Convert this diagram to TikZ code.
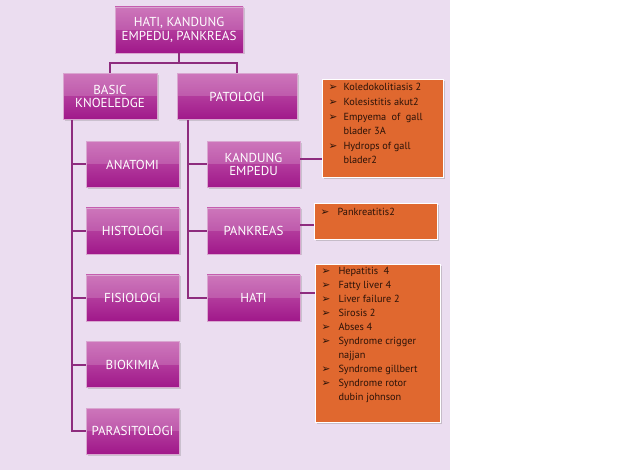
\documentclass[tikz,border=0pt]{standalone}
\usepackage{fontspec}
\setmainfont{PT Sans}
\newfontfamily\symfont{DejaVu Sans}
\usetikzlibrary{positioning, calc, shadows}
\definecolor{bgLilac}{HTML}{EBDDF0}
\definecolor{boxTop}{HTML}{C45CAE}
\definecolor{boxBot}{HTML}{A0188A}
\definecolor{boxEdge}{HTML}{D9A6D0}
\definecolor{lineFg}{HTML}{8E2C7E}
\definecolor{noteBg}{HTML}{E0682F}
\definecolor{noteFg}{HTML}{2A1208}
\newcommand{\arrbul}{{\symfont\fontsize{10.5}{10.5}\selectfont ➢}}

\begin{document}
\begin{tikzpicture}[x=1pt, y=-1pt,
    topic/.style={rectangle, draw=boxEdge, line width=0.6pt, minimum height=46pt,
        top color=boxTop, bottom color=boxBot, text=white, align=center,
        font=\fontsize{13}{13.5}\selectfont,
        drop shadow={opacity=0.3, shadow xshift=1.5pt, shadow yshift=-1.5pt},
        path picture={\fill[white, opacity=0.16] (path picture bounding box.north west) rectangle (path picture bounding box.east);}},
    note/.style={rectangle, fill=noteBg, draw=white, line width=1pt, inner sep=0pt,
        drop shadow={opacity=0.35, shadow xshift=1.5pt, shadow yshift=-1.5pt}},
    notetxt/.style={inner sep=0pt, anchor=north west, text=noteFg, font=\fontsize{10.3}{14.6}\selectfont},
    link/.style={lineFg, line width=2pt},
]
% background
\fill[white] (0,0) rectangle (640,470);
\fill[bgLilac] (0,0) rectangle (450,470);
\useasboundingbox (0,0) rectangle (640,470);

% top levels
\node[topic, minimum width=128pt] (root) at (179,30) {HATI, KANDUNG\\EMPEDU, PANKREAS};
\node[topic, minimum width=94pt] (basic) at (110,96.5) {BASIC\\KNOELEDGE};
\node[topic, minimum width=120pt] (pato) at (237,96.5) {PATOLOGI};

% basic knowledge branch
\node[topic, minimum width=93pt] (anatomi)  at (132.5,164.5) {ANATOMI};
\node[topic, minimum width=93pt] (histo)    at (132.5,231)   {HISTOLOGI};
\node[topic, minimum width=93pt] (fisio)    at (132.5,298)   {FISIOLOGI};
\node[topic, minimum width=93pt] (biokimia) at (132.5,364.5) {BIOKIMIA};
\node[topic, minimum width=93pt] (parasit)  at (132.5,431)   {PARASITOLOGI};

% patologi branch
\node[topic, minimum width=93pt] (kandung)  at (253.5,164.5) {KANDUNG\\EMPEDU};
\node[topic, minimum width=93pt] (pankreas) at (253.5,231)   {PANKREAS};
\node[topic, minimum width=93pt] (hati)     at (253.5,298)   {HATI};

% notes
\node[note, minimum width=121pt, minimum height=98pt] (note1) at (382.5,129) {};
\node[notetxt] (txt1) at ($(note1.north west)+(7,1)$) {%
  \begin{tabular}{@{}l@{\hspace{6pt}}l@{}}
  \arrbul & Koledokolitiasis 2\\
  \arrbul & Kolesistitis akut2\\
  \arrbul & Empyema \ of \ gall\\
          & blader 3A\\
  \arrbul & Hydrops of gall\\
          & blader2
  \end{tabular}};
\node[note, minimum width=123pt, minimum height=36pt] (note2) at (375.5,222) {};
\node[notetxt] (txt2) at ($(note2.north west)+(7,2)$) {%
  \begin{tabular}{@{}l@{\hspace{8pt}}l@{}}
  \arrbul & Pankreatitis2
  \end{tabular}};
\node[note, minimum width=125pt, minimum height=157pt] (note3) at (377.5,343.5) {};
\node[notetxt, font=\fontsize{10.3}{14}\selectfont] (txt3) at ($(note3.north west)+(7,0)$) {%
  \begin{tabular}{@{}l@{\hspace{8pt}}l@{}}
  \arrbul & Hepatitis \ 4\\
  \arrbul & Fatty liver 4\\
  \arrbul & Liver failure 2\\
  \arrbul & Sirosis 2\\
  \arrbul & Abses 4\\
  \arrbul & Syndrome crigger\\
          & najjan\\
  \arrbul & Syndrome gillbert\\
  \arrbul & Syndrome rotor\\
          & dubin johnson
  \end{tabular}};

% connectors
\coordinate (split) at ($(root.south)+(0,10)$);
\draw[link] (root.south) -- (split) -| (basic.north);
\draw[link] (split) -| (pato.north);
\coordinate (bkTop) at ($(basic.south west)+(9,0)$);
\coordinate (ptTop) at ($(pato.south west)+(11,0)$);
\draw[link] (bkTop) |- (parasit.west);
\foreach \n in {anatomi, histo, fisio, biokimia}
  \draw[link] (bkTop |- \n.west) -- (\n.west);
\draw[link] (ptTop) |- (hati.west);
\foreach \n in {kandung, pankreas}
  \draw[link] (ptTop |- \n.west) -- (\n.west);
\draw[link] ($(kandung.east)+(0,-5)$) -- ($(kandung.east -| note1.west)+(0,-5)$);
\draw[link] ($(pankreas.east)+(0,-6)$) -- ($(pankreas.east -| note2.west)+(0,-6)$);
\draw[link] ($(hati.east)+(0,-5)$) -- ($(hati.east -| note3.west)+(0,-5)$);
\end{tikzpicture}
\end{document}
